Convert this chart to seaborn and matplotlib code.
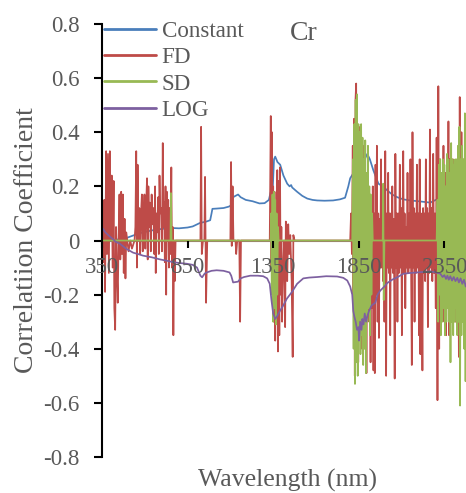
import matplotlib
matplotlib.use("Agg")
import matplotlib.pyplot as plt
import seaborn as sns
import pandas as pd
from matplotlib.ticker import FuncFormatter

# --- data (wavelength nm, correlation) ---
CONST_WL = [350, 365, 380, 400, 430, 460, 496, 530, 572, 610, 648, 690, 730, 765, 800, 850, 880,
            923, 960, 982, 990, 995, 1020, 1060, 1090, 1105, 1116, 1130, 1145, 1160, 1190, 1230,
            1270, 1300, 1325, 1335, 1348, 1355, 1362, 1375, 1391, 1410, 1432, 1446, 1455, 1461,
            1490, 1520, 1549, 1580, 1607, 1650, 1700, 1740, 1770, 1789, 1800, 1830, 1860, 1885,
            1900, 1915, 1935, 1965, 1990, 2017, 2045, 2075, 2110, 2151, 2200, 2268, 2300, 2327,
            2360, 2400, 2450, 2500]
CONST_VAL = [-0.055, -0.03, -0.01, 0.0, 0.003, 0.005, 0.01, 0.018, 0.027, 0.033, 0.038, 0.042,
             0.045, 0.046, 0.045, 0.048, 0.052, 0.065, 0.07, 0.075, 0.1, 0.117, 0.118, 0.12,
             0.125, 0.13, 0.16, 0.165, 0.17, 0.16, 0.15, 0.145, 0.137, 0.138, 0.15, 0.178, 0.2,
             0.3, 0.31, 0.29, 0.28, 0.24, 0.21, 0.2, 0.205, 0.196, 0.18, 0.165, 0.155, 0.15,
             0.148, 0.147, 0.148, 0.152, 0.158, 0.2, 0.23, 0.26, 0.29, 0.3, 0.32, 0.3, 0.26,
             0.21, 0.2, 0.185, 0.17, 0.16, 0.152, 0.148, 0.145, 0.14, 0.15, 0.16, 0.165, 0.17,
             0.175, 0.18]

FD_WL = [350, 357, 363, 368, 374, 379, 385, 390, 396, 401, 407, 412, 418, 422, 427, 432, 437,
         442, 447, 452, 457, 462, 467, 472, 477, 482, 487, 492, 505, 515, 525, 540,
         545, 550, 554, 558, 563, 568, 573, 578, 583, 588, 593, 598, 603, 608, 613, 617, 621,
         626, 630, 635, 640, 645, 650, 655, 660, 664, 668, 673, 678, 682, 686, 690, 695, 700,
         705, 709, 713, 717, 721, 725, 729, 733, 737, 741, 745, 750, 755, 759, 763, 767, 771,
         775, 780, 790,
         925, 929, 933, 940, 948, 952, 958, 965, 1100, 1104, 1108, 1113, 1118, 1130, 1134,
         1140, 1152, 1157, 1162, 1330,
         1336, 1340, 1343, 1347, 1350, 1354, 1358, 1362, 1366, 1370, 1374, 1378, 1382, 1386,
         1390, 1394, 1398, 1402, 1408, 1414, 1420, 1424, 1428, 1432, 1438, 1444, 1450, 1458,
         1464, 1468, 1475, 1800,
         1805, 1810, 1815, 1819, 1823, 1827, 1831, 1835, 1839, 1843, 1847, 1851, 1855, 1859,
         1863, 1867, 1871, 1875, 1879, 1883, 1887, 1891, 1895, 1899, 1903, 1907, 1911, 1915,
         1919, 1923, 1928, 1932, 1936, 1940, 1944, 1948, 1952, 1956, 1960, 1964, 1968, 1972,
         1976, 1980, 1984, 1988, 1992, 1996, 2000, 2005, 2010, 2014, 2018, 2022, 2026, 2030,
         2034, 2038, 2042, 2046, 2050, 2055, 2060, 2064, 2068, 2072, 2076, 2080, 2085, 2090,
         2094, 2098, 2102, 2106, 2110, 2114, 2118, 2122, 2126, 2130, 2135, 2140, 2144, 2148,
         2152, 2156, 2160, 2164, 2168, 2172, 2176, 2180, 2185, 2190, 2194, 2198, 2202, 2206,
         2210, 2214, 2218, 2222, 2226, 2230, 2234, 2238, 2242, 2246, 2250, 2254, 2258, 2262,
         2266, 2270, 2275, 2280, 2285, 2290, 2295, 2300, 2305, 2310, 2315, 2320, 2325, 2330,
         2335, 2340, 2345, 2350, 2355, 2360, 2365, 2370, 2374, 2378, 2382, 2386, 2390, 2395,
         2400, 2405, 2410, 2415, 2420, 2425, 2430, 2435, 2440, 2445, 2450, 2455, 2460, 2465,
         2470, 2475, 2480, 2485, 2490, 2495, 2500]
FD_VAL = [0.02, -0.08, 0.15, -0.19, 0.33, -0.05, 0.32, -0.12, 0.33, 0.0, 0.24, -0.1, 0.22, -0.25,
          -0.33, 0.05, -0.12, -0.23, 0.02, 0.17, -0.07, 0.18, -0.05, 0.17, -0.12, 0.08, -0.14,
          0.03, -0.04, 0.0, -0.03, 0.0,
          0.05, 0.33, -0.1, 0.28, 0.0, 0.12, -0.05, 0.1, 0.17, -0.04, 0.08, 0.17, -0.03, 0.13,
          0.23, -0.07, 0.2, 0.05, 0.14, -0.04, 0.17, 0.06, 0.12, -0.05, 0.2, -0.12, 0.1, 0.03,
          0.16, -0.05, 0.24, 0.1, 0.12, -0.04, 0.36, 0.05, 0.14, -0.08, 0.2, -0.2, 0.18, 0.0,
          0.15, -0.1, 0.12, -0.05, 0.27, -0.1, 0.05, -0.35, 0.0, -0.15, 0.0, 0.0,
          0.0, 0.42, -0.05, 0.0, 0.0, 0.235, -0.23, 0.0, 0.0, 0.29, -0.02, 0.2, 0.0, 0.0, -0.05,
          0.0, 0.0, -0.3, 0.0, 0.0,
          0.46, -0.1, 0.4, -0.2, 0.2, -0.3, 0.18, -0.37, 0.1, -0.26, 0.26, -0.41, 0.22, -0.35,
          0.27, -0.2, 0.05, -0.3, -0.1, 0.0, -0.32, 0.07, 0.0, -0.15, 0.06, -0.05, 0.02, -0.15,
          -0.43, 0.02, 0.0, 0.0,
          0.1, -0.05, 0.35, -0.2, 0.45, -0.5, 0.52, 0.58, -0.3, 0.3, -0.45, 0.42, -0.2, 0.32,
          -0.4, 0.25, -0.3, 0.35, -0.15, 0.2, -0.35, 0.1, -0.49, 0.15, -0.2, 0.1, -0.3, 0.05,
          -0.45, 0.12, -0.25, 0.2, -0.48, 0.1, -0.49, 0.28, -0.2, 0.35, -0.3, 0.1, -0.36, 0.08,
          -0.1, 0.3, -0.1, 0.1, -0.15, 0.08, -0.3, 0.33, -0.5, 0.1, -0.1, 0.25, -0.12, 0.1,
          -0.35, 0.1, -0.1, 0.2, -0.12, 0.08, -0.51, 0.32, -0.1, 0.1, -0.3, 0.1, -0.12, 0.28,
          -0.1, 0.12, -0.35, 0.1, 0.33, -0.12, 0.1, -0.25, 0.05, -0.1, 0.25, -0.12, 0.1, -0.1,
          0.3, -0.12, -0.46, 0.4, -0.1, 0.12, -0.3, 0.1, -0.12, 0.28, -0.1, 0.1, -0.35, 0.3,
          -0.42, 0.1, -0.1, -0.48, 0.12, -0.12, 0.1, -0.15, 0.3, -0.1, 0.12, -0.32, 0.1, -0.12,
          0.41, -0.1, 0.12, -0.15, 0.32, -0.12, 0.1, -0.25, 0.38, -0.59, 0.57, -0.4, 0.3, -0.3,
          0.2, -0.25, 0.35, -0.3, 0.25, -0.35, 0.3, -0.2, 0.44, -0.35, 0.3, -0.3, 0.25, -0.2,
          0.3, -0.25, 0.2, -0.3, 0.15, -0.2, 0.3, -0.43, 0.53, -0.3, 0.4, -0.25, 0.3, -0.35,
          0.25, -0.2, 0.3, -0.3, 0.2, -0.2, 0.1]

SD_WL = [350, 750, 753, 756, 1335, 1338, 1342, 1346, 1350, 1354, 1358, 1362, 1366, 1370, 1374,
         1378, 1382, 1812, 1816, 1820, 1824, 1828, 1832, 1836, 1840, 1844, 1848, 1852, 1856,
         1860, 1864, 1868, 1872, 1876, 1880, 1884, 1888, 1892, 1896, 1900, 1904, 1908, 1912,
         1916, 1920, 1924, 1928, 1932, 1990, 1993, 1996, 2000, 2305, 2310, 2314, 2318, 2322,
         2326, 2330, 2334, 2338, 2342, 2346, 2350, 2354, 2358, 2362, 2366, 2370, 2374, 2378,
         2382, 2386, 2390, 2394, 2398, 2402, 2406, 2410, 2414, 2418, 2422, 2426, 2430, 2434,
         2438, 2442, 2446, 2450, 2454, 2458, 2462, 2466, 2470, 2474, 2478, 2482, 2486, 2490,
         2494, 2498, 2500]
SD_VAL = [0.0, 0.0, 0.175, 0.0, 0.0, 0.1, -0.2, 0.17, -0.3, 0.18, -0.25, 0.15, -0.31, 0.1, -0.2,
          0.05, 0.0, 0.0, 0.3, -0.4, 0.43, -0.53, 0.52, -0.45, 0.54, -0.5, 0.43, -0.3, 0.4,
          -0.42, 0.43, -0.35, 0.38, -0.46, 0.3, -0.4, 0.37, -0.49, 0.25, -0.3, 0.35, -0.25,
          0.2, -0.35, 0.17, -0.2, 0.1, 0.0, 0.0, 0.21, -0.22, 0.0, 0.0, 0.15, -0.3, 0.28, -0.2,
          0.3, -0.35, 0.25, -0.3, 0.3, -0.25, 0.28, -0.35, 0.2, -0.3, 0.32, -0.25, 0.3, -0.3,
          0.25, -0.45, 0.36, -0.3, 0.3, -0.35, 0.28, -0.3, 0.3, -0.25, 0.3, -0.35, 0.35, -0.3,
          0.42, -0.61, 0.3, -0.35, 0.35, -0.3, 0.3, -0.4, 0.47, -0.52, 0.35, -0.3, 0.3, -0.35,
          0.3, -0.3, 0.1]

LOG_WL = [350, 370, 395, 414, 430, 455, 490, 532, 560, 590, 640, 690, 730, 765, 800, 847, 880,
          905, 925, 935, 950, 962, 990, 1020, 1060, 1095, 1105, 1116, 1145, 1160, 1180, 1216,
          1260, 1292, 1315, 1330, 1340, 1350, 1362, 1373, 1390, 1409, 1430, 1460, 1490, 1526,
          1560, 1607, 1660, 1724, 1760, 1783, 1800, 1812, 1818, 1824, 1832, 1840, 1848, 1852,
          1858, 1866, 1871, 1878, 1885, 1893, 1900, 1910, 1925, 1947, 1960, 1976, 2000, 2017,
          2045, 2075, 2110, 2150, 2192, 2230, 2268, 2300, 2327, 2340, 2350, 2360, 2368, 2376,
          2385, 2395, 2405, 2415, 2426, 2435, 2445, 2455, 2465, 2475, 2485, 2492, 2500]
LOG_VAL = [0.048, 0.03, 0.015, 0.005, -0.005, -0.012, -0.03, -0.045, -0.05, -0.056, -0.062,
           -0.07, -0.075, -0.08, -0.083, -0.086, -0.09, -0.1, -0.13, -0.136, -0.122, -0.118,
           -0.112, -0.11, -0.112, -0.118, -0.13, -0.155, -0.152, -0.14, -0.135, -0.13, -0.13,
           -0.132, -0.14, -0.16, -0.22, -0.27, -0.29, -0.28, -0.26, -0.24, -0.215, -0.19,
           -0.16, -0.14, -0.137, -0.135, -0.132, -0.133, -0.138, -0.148, -0.17, -0.2, -0.26,
           -0.28, -0.3, -0.33, -0.32, -0.37, -0.3, -0.33, -0.29, -0.31, -0.27, -0.3, -0.28,
           -0.26, -0.24, -0.23, -0.2, -0.185, -0.17, -0.157, -0.145, -0.136, -0.123, -0.12,
           -0.118, -0.116, -0.114, -0.118, -0.123, -0.135, -0.128, -0.142, -0.13, -0.145,
           -0.132, -0.148, -0.135, -0.15, -0.138, -0.155, -0.14, -0.16, -0.145, -0.17, -0.15,
           -0.19, -0.2]

SERIES = ["Constant", "FD", "SD", "LOG"]
COLORS = {"Constant": "#4a7ebb", "FD": "#be4b48", "SD": "#98b954", "LOG": "#7d60a0"}
X_TICKS = [350, 850, 1350, 1850, 2350]
Y_TICKS = [-0.8, -0.6, -0.4, -0.2, 0, 0.2, 0.4, 0.6, 0.8]

sns.set_style("white")
plt.rcParams["font.family"] = ["Liberation Serif", "DejaVu Serif"]
plt.rcParams["axes.unicode_minus"] = False
GREY = "#595959"

frames = []
for name, wl, val in [("Constant", CONST_WL, CONST_VAL), ("FD", FD_WL, FD_VAL),
                      ("SD", SD_WL, SD_VAL), ("LOG", LOG_WL, LOG_VAL)]:
    frames.append(pd.DataFrame({"wl": wl, "r": val, "series": name}))
df = pd.concat(frames, ignore_index=True)

W, H = 466, 493
fig = plt.figure(figsize=(W / 100, H / 100), dpi=100)
ax = fig.add_axes([102 / W, 36 / H, 368 / W, 433 / H])

for name in SERIES:
    sub = df[df["series"] == name]
    sns.lineplot(data=sub, x="wl", y="r", ax=ax, color=COLORS[name], lw=1.25,
                 estimator=None, sort=False, label=name)

ax.set_xlim(350, 2500)
ax.set_ylim(-0.8, 0.8)
ax.set_xticks(X_TICKS)
ax.set_yticks(Y_TICKS)
ax.yaxis.set_major_formatter(FuncFormatter(lambda v, p: f"{v:g}"))

for s in ["top", "right"]:
    ax.spines[s].set_visible(False)
ax.spines["bottom"].set_position(("data", 0))
ax.spines["bottom"].set_color("#868686")
ax.spines["bottom"].set_zorder(1)
ax.spines["left"].set_color("black")
ax.spines["left"].set_linewidth(1.5)
ax.xaxis.set_zorder(5)

ax.tick_params(axis="y", direction="out", length=6, width=1.5, color="black",
               labelsize=16.5, labelcolor=GREY, pad=10, left=True)
ax.tick_params(axis="x", direction="out", length=5, width=1.5, color="black",
               labelsize=16.5, labelcolor=GREY, pad=7, bottom=True)

ax.set_xlabel("")
ax.set_ylabel("Correlatiion Coefficient", fontsize=20, color=GREY)
ax.yaxis.set_label_coords((39 - 102) / 368, 0.5)

fig.text(287 / W, 1 - 487 / H, "Wavelength (nm)", ha="center", va="baseline",
         fontsize=18.5, color=GREY)
fig.text(304 / W, 1 - 40 / H, "Cr", ha="center", va="baseline", fontsize=20, color=GREY)

leg = ax.legend(loc="upper left", bbox_to_anchor=(104 / W, 1 - 21 / H),
                bbox_transform=fig.transFigure, frameon=False, fontsize=16.6,
                handlelength=2.25, handletextpad=0.25, borderpad=0, labelspacing=0.22,
                borderaxespad=0)
for t in leg.get_texts():
    t.set_color(GREY)
for h in leg.get_lines():
    h.set_linewidth(2)

fig.savefig("out.png", dpi=100)
